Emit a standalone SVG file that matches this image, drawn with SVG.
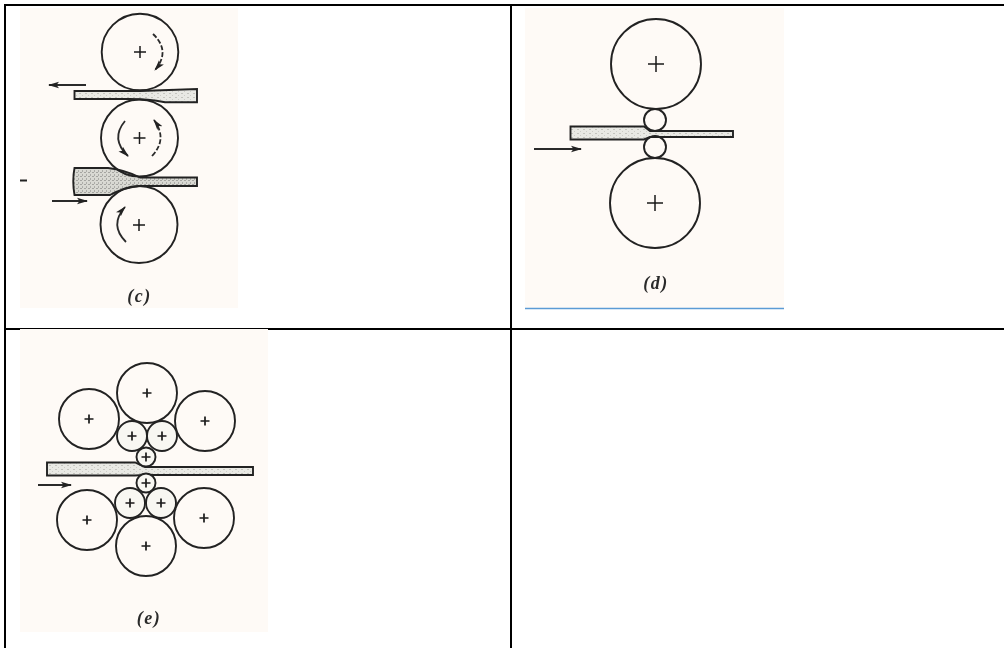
<svg xmlns="http://www.w3.org/2000/svg" width="1004" height="648" viewBox="0 0 1004 648">
<style>
.r{fill:none;stroke:#222;stroke-width:1.900}
.n{fill:#f8f7f2;stroke:#222;stroke-width:1.900}
.g{stroke:#1a1a1a;stroke-width:1.500;fill:none}
.s{fill:url(#st);stroke:#222;stroke-width:1.900}
.d{fill:url(#sd);stroke:#222;stroke-width:1.900}
.t{font-family:"Liberation Serif",serif;font-style:italic;font-weight:bold;font-size:18px;letter-spacing:1.500px;fill:#2a2a2a;text-anchor:middle}
.bg{fill:#fefaf6}
.a{fill:none;stroke:#2a2a2a;stroke-width:1.800}
</style>
<defs>
<filter id="soft" x="-5%" y="-5%" width="110%" height="110%"><feGaussianBlur stdDeviation="0.450"/></filter>
<pattern id="st" width="6" height="4" patternUnits="userSpaceOnUse"><rect width="6" height="4" fill="#e9e9e4"/><rect x="1" y="1" width="2" height="1" fill="#c4c4be"/><rect x="4" y="3" width="1" height="1" fill="#ccccc6"/></pattern>
<pattern id="sd" width="4" height="4" patternUnits="userSpaceOnUse"><rect width="4" height="4" fill="#d8d8d2"/><rect x="0" y="0" width="2" height="1" fill="#a4a4a0"/><rect x="2" y="2" width="1" height="2" fill="#acaca8"/></pattern>
<marker id="h" markerWidth="11" markerHeight="8" refX="10" refY="4" orient="auto" markerUnits="userSpaceOnUse"><path d="M0 0.800L11 4L0 7.200L2.500 4z" fill="#222"/></marker>
<path id="pc" d="M-6 0H6M0-6V6" class="g"/>
<path id="pd" d="M-8 0H8M0-8V8" class="g"/>
<path id="pe" d="M-4.500 0H4.500M0-4.500V4.500" class="g" style="stroke-width:1.700"/>
</defs>
<rect width="1004" height="648" fill="#fff"/>
<g id="grid" fill="#000">
<rect x="4" y="4" width="1000" height="2"/>
<rect x="4" y="328" width="1000" height="2"/>
<rect x="4" y="4" width="2" height="644"/>
<rect x="510" y="4" width="2" height="644"/>
</g>
<rect class="bg" x="20" y="8" width="218" height="300"/>
<rect class="bg" x="525" y="8" width="259" height="300"/>
<rect class="bg" x="20" y="329" width="248" height="303"/>
<path d="M525 308.500H784" stroke="#5b9bd5" stroke-width="1.300"/>
<g id="panel-c" filter="url(#soft)">
<path class="s" d="M74.500 91H140L197 89V102.300H165Q148 99 130 99H74.500Z"/>
<path class="d" d="M74.500 168H108Q125 170 140 177.500H197V186H140Q125 187 110 195H74.500Q72 181 74.500 168Z"/>
<circle class="r" cx="140" cy="52" r="38.300"/><use href="#pc" x="140" y="52"/>
<circle class="r" cx="139.500" cy="138" r="38.500"/><use href="#pc" x="139.500" y="138"/>
<circle class="r" cx="139" cy="224.500" r="38.500"/><use href="#pc" x="139" y="225"/>
<path class="a" stroke-dasharray="5 2" marker-end="url(#h)" d="M153 34Q171 51 155 70"/>
<path class="a" d="M125 121Q110 139 128 156" marker-end="url(#h)"/>
<path class="a" stroke-dasharray="5 2" marker-end="url(#h)" d="M152 156Q168 139 154 120"/>
<path class="a" d="M126 242Q109 225 125 207" marker-end="url(#h)"/>
<path class="a" marker-end="url(#h)" d="M86 85H49"/>
<path class="a" marker-end="url(#h)" d="M52 201H87"/>
<path d="M20 180.500H27" stroke="#222" stroke-width="2"/>
<text class="t" x="139.500" y="302">(c)</text>
</g>
<g id="panel-d" filter="url(#soft)">
<path class="s" d="M570.500 126.500H644L650 131H733V137H650L644 139.500H570.500Z"/>
<circle class="r" cx="656" cy="64" r="45"/><use href="#pd" x="656" y="64"/>
<circle class="r" cx="655" cy="120" r="11"/>
<circle class="r" cx="655" cy="147" r="11"/>
<circle class="r" cx="655" cy="203" r="45"/><use href="#pd" x="655" y="203"/>
<path class="a" marker-end="url(#h)" d="M534 149H581"/>
<text class="t" x="656" y="289">(d)</text>
</g>
<g id="panel-e" filter="url(#soft)">
<path class="s" d="M47 462.500H135L145 467H253V475H145L135 475.500H47Z"/>
<circle class="r" cx="147" cy="393" r="30"/><use href="#pe" x="147" y="393"/>
<circle class="r" cx="89" cy="419" r="30"/><use href="#pe" x="89" y="419"/>
<circle class="r" cx="205" cy="421" r="30"/><use href="#pe" x="205" y="421"/>
<circle class="n" cx="132" cy="436" r="15"/><use href="#pe" x="132" y="436"/>
<circle class="n" cx="162" cy="436" r="15"/><use href="#pe" x="162" y="436"/>
<circle class="n" cx="146" cy="457" r="9.500"/><use href="#pe" x="146" y="457"/>
<circle class="n" cx="146" cy="483" r="9.500"/><use href="#pe" x="146" y="483"/>
<circle class="n" cx="130" cy="503" r="15"/><use href="#pe" x="130" y="503"/>
<circle class="n" cx="161" cy="503" r="15"/><use href="#pe" x="161" y="503"/>
<circle class="r" cx="87" cy="520" r="30"/><use href="#pe" x="87" y="520"/>
<circle class="r" cx="204" cy="518" r="30"/><use href="#pe" x="204" y="518"/>
<circle class="r" cx="146" cy="546" r="30"/><use href="#pe" x="146" y="546"/>
<path class="a" marker-end="url(#h)" d="M38 485H71"/>
<text class="t" x="149" y="624">(e)</text>
</g>
</svg>
